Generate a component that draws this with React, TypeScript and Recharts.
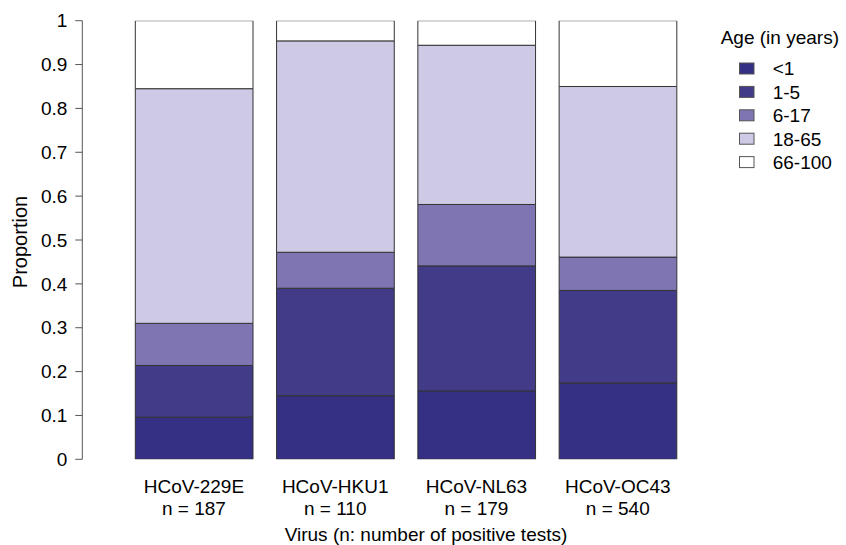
import React from 'react';
import { BarChart, Bar, XAxis, YAxis, Legend } from 'recharts';

const viruses = ['HCoV-229E', 'HCoV-HKU1', 'HCoV-NL63', 'HCoV-OC43'];
const counts = [187, 110, 179, 540];
const ageGroups = ['<1', '1-5', '6-17', '18-65', '66-100'];
const under1 = [0.096, 0.145, 0.156, 0.174];
const age1to5 = [0.118, 0.245, 0.285, 0.211];
const age6to17 = [0.096, 0.082, 0.14, 0.076];
const age18to65 = [0.535, 0.482, 0.363, 0.389];
const age66to100 = [0.155, 0.046, 0.056, 0.15];
const yTicks = [0, 0.1, 0.2, 0.3, 0.4, 0.5, 0.6, 0.7, 0.8, 0.9, 1];
const colors = ['#353083', '#423c88', '#7e75b2', '#cecae6', '#ffffff'];

const seriesValues = [under1, age1to5, age6to17, age18to65, age66to100];
const keys = ['a0', 'a1', 'a2', 'a3', 'a4'];

const data = viruses.map((v, i) => {
  const row: any = { virus: v, n: counts[i] };
  keys.forEach((k, j) => {
    row[k] = seriesValues[j][i];
  });
  return row;
});

const FONT = 'Liberation Sans, Arial, sans-serif';

const XTick = (props: any) => {
  const { x, y, payload, index } = props;
  return (
    <text x={x} y={y} textAnchor="middle" fontSize={19} fontFamily={FONT} fill="#000">
      <tspan x={x} y={y + 34}>{payload.value}</tspan>
      <tspan x={x} y={y + 56}>{`n = ${counts[index]}`}</tspan>
    </text>
  );
};

const XTitle = (props: any) => {
  const { viewBox } = props;
  const cx = viewBox.x + 343.7;
  return (
    <text x={cx} y={viewBox.y + 82} textAnchor="middle" fontSize={19} fontFamily={FONT} fill="#000">
      Virus (n: number of positive tests)
    </text>
  );
};

const YTitle = (props: any) => {
  const { viewBox } = props;
  const cy = viewBox.y + viewBox.height / 2 + 2;
  const x = 27;
  return (
    <text
      x={x}
      y={cy}
      transform={`rotate(-90, ${x}, ${cy})`}
      textAnchor="middle"
      fontSize={20}
      fontFamily={FONT}
      fill="#000"
    >
      Proportion
    </text>
  );
};

const LegendContent = () => (
  <svg width={131} height={180} style={{ display: 'block' }}>
    <text x={5.7} y={44} fontSize={19} fontFamily={FONT} fill="#000">
      Age (in years)
    </text>
    {ageGroups.map((g, i) => {
      const cy = 68.5 + 23.4 * i;
      return (
        <g key={g}>
          <rect x={24.5} y={cy - 5.5} width={14.5} height={11} fill={colors[i]} stroke="#555" strokeWidth={1} />
          <text x={57.7} y={cy + 6.8} fontSize={19} fontFamily={FONT} fill="#000">
            {g}
          </text>
        </g>
      );
    })}
  </svg>
);

export default function App() {
  return (
    <div style={{ position: 'absolute', left: 0, top: 0, width: 846, height: 545, background: '#fff' }}>
      <BarChart
        width={846}
        height={545}
        data={data}
        margin={{ top: 20.7, right: 157.6, bottom: 0, left: 0 }}
      >
        <XAxis
          dataKey="virus"
          height={85.7}
          padding={{ left: 41, right: 0 }}
          axisLine={false}
          tickLine={false}
          tickSize={0}
          tickMargin={0}
          interval={0}
          tick={<XTick />}
          label={<XTitle />}
        />
        <YAxis
          width={82.3}
          domain={[0, 1]}
          allowDataOverflow
          ticks={yTicks}
          interval={0}
          tickFormatter={(v: number) => String(Number(v.toFixed(1)))}
          tickSize={7}
          tickMargin={8}
          axisLine={{ stroke: '#555', strokeWidth: 1 }}
          tickLine={{ stroke: '#555', strokeWidth: 1 }}
          tick={{ fontSize: 19, fontFamily: FONT, fill: '#000' }}
          label={<YTitle />}
        />
        <Legend
          layout="horizontal"
          verticalAlign="middle"
          align="center"
          content={<LegendContent />}
          wrapperStyle={{ left: 715, top: 0, width: 131, height: 180 }}
        />
        {keys.map((k, j) => (
          <Bar
            key={k}
            dataKey={k}
            name={ageGroups[j]}
            stackId="age"
            fill={colors[j]}
            stroke="#333"
            strokeWidth={1}
            barSize={117.7}
            isAnimationActive={false}
          />
        ))}
      </BarChart>
    </div>
  );
}
